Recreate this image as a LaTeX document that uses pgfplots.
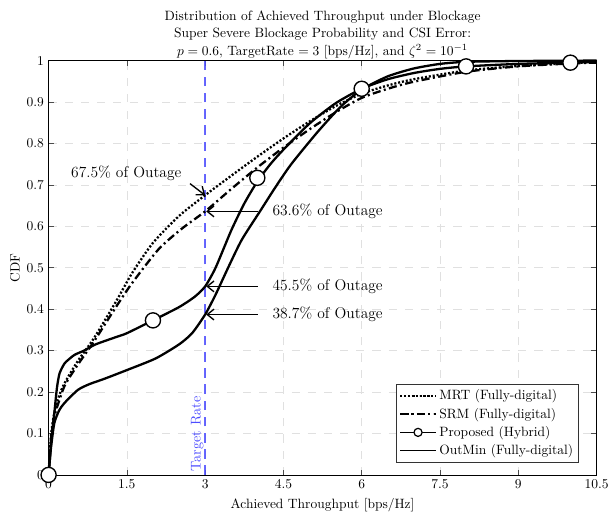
\documentclass[border=0pt]{standalone}
\usepackage{pgfplots}
\pgfplotsset{compat=1.18}
\usetikzlibrary{arrows.meta}

\definecolor{targetblue}{rgb}{0.3,0.3,1}

% CDF samples of the achieved throughput for each scheme
\pgfplotstableread{
x y
0 0
0.02 0.05
0.05 0.10
0.11 0.15
0.2 0.19
0.3 0.22
0.56 0.275
0.87 0.33
1.29 0.418
1.6 0.487
2.0 0.56
2.5 0.625
3.0 0.675
3.5 0.722
4.0 0.768
4.5 0.812
5.0 0.853
5.5 0.89
6.0 0.92
6.5 0.94
7.0 0.955
8.0 0.976
9.0 0.987
10.0 0.994
10.5 0.996
}\mrt

\pgfplotstableread{
x y
0 0
0.02 0.05
0.05 0.09
0.11 0.141
0.3 0.213
0.56 0.266
0.87 0.322
1.29 0.405
1.6 0.463
2.11 0.545
2.55 0.594
3.0 0.636
3.5 0.69
4.0 0.742
4.5 0.79
5.0 0.834
5.5 0.875
6.0 0.91
6.5 0.932
7.0 0.949
8.0 0.973
9.0 0.986
10.0 0.993
10.5 0.995
}\srm

\pgfplotstableread{
x y
0 0
0.02 0.03
0.05 0.08
0.11 0.149
0.16 0.21
0.21 0.245
0.3 0.268
0.37 0.277
0.5 0.29
0.68 0.30
0.9 0.315
1.3 0.333
1.5 0.342
2.0 0.373
2.5 0.405
2.8 0.43
3.0 0.455
3.2 0.50
3.5 0.59
3.75 0.655
4.0 0.708
4.25 0.75
4.5 0.785
5.0 0.848
5.5 0.897
6.0 0.932
6.5 0.955
7.0 0.970
7.5 0.980
8.0 0.986
9.0 0.992
10.0 0.995
10.5 0.997
}\proposed

\pgfplotstableread{
x y
0 0
2 0.373
4 0.717
6 0.932
8 0.986
10 0.995
}\proposedmarks

\pgfplotstableread{
x y
0 0
0.02 0.03
0.05 0.07
0.11 0.125
0.2 0.155
0.3 0.173
0.56 0.205
0.78 0.219
1.07 0.232
1.5 0.253
2.05 0.281
2.5 0.315
2.75 0.342
3.0 0.387
3.2 0.435
3.44 0.50
3.7 0.567
4.05 0.636
4.35 0.695
4.65 0.75
5.15 0.827
5.6 0.889
6.0 0.93
6.5 0.962
7.0 0.981
7.5 0.992
8.0 0.997
9.0 0.999
10.5 1.0
}\outmin

\begin{document}
\begin{tikzpicture}
\begin{axis}[
  scale only axis,
  width=406pt, height=307pt,
  xmin=0, xmax=10.5, ymin=0, ymax=1,
  xtick={0,1.5,3,4.5,6,7.5,9,10.5},
  ytick={0,0.1,...,1},
  yticklabels={0,0.1,0.2,0.3,0.4,0.5,0.6,0.7,0.8,0.9,1},
  xticklabels={0,1.5,3,4.5,6,7.5,9,10.5},
  tick align=inside,
  tick style={color=black!70, line width=0.5pt},
  major tick length=4pt,
  grid=major,
  major grid style={color=black!12, dash pattern=on 6pt off 6pt, line width=0.5pt},
  axis line style={line width=0.6pt},
  ticklabel style={font=\normalsize},
  xlabel={Achieved Throughput [bps/Hz]},
  ylabel={CDF},
  label style={font=\normalsize},
  ylabel style={yshift=-2pt},
  title style={font=\fontsize{10}{12}\selectfont, align=center, yshift=-8pt},
  title={Distribution of Achieved Throughput under Blockage\\[0.8pt]Super Severe Blockage Probability and CSI Error:\\[0.8pt]$p=0.6$, TargetRate $=3$ [bps/Hz], and $\zeta^2=10^{-1}$},
  legend style={at={(0.968,0.03)}, anchor=south east,
    font=\normalsize, draw=black!80, line width=0.6pt, inner sep=2pt,
    row sep=0.5pt, cells={anchor=west}},
  legend cell align=left,
  legend image code/.code={%
    \draw[mark repeat=2,mark phase=2,#1, line width=1pt] plot coordinates {(0cm,0cm) (0.47cm,0cm) (0.94cm,0cm)};},
  clip=false,
]
% target rate marker
\addplot[targetblue, line width=1.6pt, dash pattern=on 7pt off 5pt, forget plot, opacity=0.85]
  coordinates {(3,0) (3,1)};

\addplot[black, line width=1.7pt, dash pattern=on 1.5pt off 1.4pt, smooth, tension=0.4] table[x=x,y=y]{\mrt};
\addlegendentry{MRT (Fully-digital)}

\addplot[black, line width=1.7pt, dash pattern=on 6pt off 2.5pt on 1.5pt off 2.5pt, smooth, tension=0.4] table[x=x,y=y]{\srm};
\addlegendentry{SRM (Fully-digital)}

\addplot[black, line width=1.7pt, smooth, tension=0.4, forget plot] table[x=x,y=y]{\proposed};
\addplot[black, only marks, mark=*, mark size=5.6pt,
  mark options={fill=white, line width=1pt}, forget plot] table[x=x,y=y]{\proposedmarks};
\addlegendimage{black, mark=*, mark size=3pt, mark options={fill=white, line width=0.9pt}}
\addlegendentry{Proposed (Hybrid)}

\addplot[black, line width=1.7pt, smooth, tension=0.4] table[x=x,y=y]{\outmin};
\addlegendentry{OutMin (Fully-digital)}

\node[targetblue, rotate=90, anchor=south west, font=\fontsize{10.5}{12.5}\selectfont, inner sep=1pt]
  at (axis cs:3,0.018) [xshift=-4pt] {Target Rate};

% outage annotations
\draw[-{Straight Barb[length=5pt,width=8pt]}, line width=1pt] (axis cs:2.71,0.703) -- (axis cs:3,0.675);
\node[font=\fontsize{11.5}{14}\selectfont] at (axis cs:1.49,0.727) {67.5\% of Outage};
\draw[-{Straight Barb[length=5pt,width=8pt]}, line width=1pt] (axis cs:4.01,0.636) -- (axis cs:3.02,0.636);
\node[font=\fontsize{11.5}{14}\selectfont, anchor=west] at (axis cs:4.2,0.636) {63.6\% of Outage};
\draw[-{Straight Barb[length=5pt,width=8pt]}, line width=1pt] (axis cs:4.01,0.455) -- (axis cs:3.02,0.455);
\node[font=\fontsize{11.5}{14}\selectfont, anchor=west] at (axis cs:4.2,0.455) {45.5\% of Outage};
\draw[-{Straight Barb[length=5pt,width=8pt]}, line width=1pt] (axis cs:4.01,0.387) -- (axis cs:3.02,0.387);
\node[font=\fontsize{11.5}{14}\selectfont, anchor=west] at (axis cs:4.2,0.387) {38.7\% of Outage};

% white margins round the plot
\path (rel axis cs:0,0.5) ++(-36pt,0);
\path (rel axis cs:0.5,1) ++(0,44.9pt);
\path (rel axis cs:0.5,0) ++(0,-27.9pt);
\end{axis}
\end{tikzpicture}
\end{document}
